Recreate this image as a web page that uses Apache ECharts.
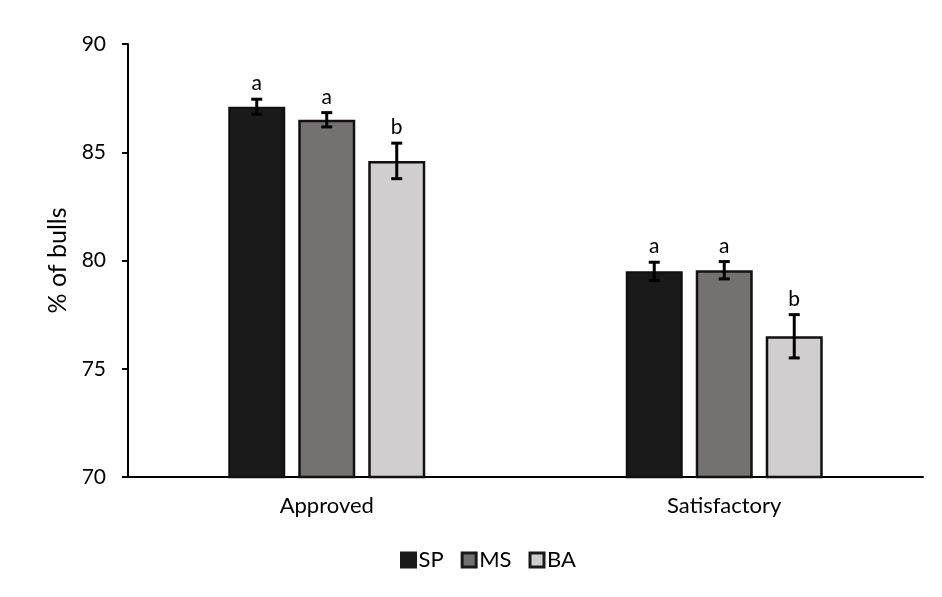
<!DOCTYPE html>
<html><head><meta charset="utf-8">
<script src="https://cdn.jsdelivr.net/npm/echarts@6/dist/echarts.min.js"></script>
<style>html,body{margin:0;padding:0;background:#fff}#c{width:942px;height:597px}</style>
</head><body><div id="c"></div>
<script>
var categories = ['Approved', 'Satisfactory'];
var seriesNames = ['SP', 'MS', 'BA'];
var spValues = [87.1, 79.5];
var msValues = [86.5, 79.55];
var baValues = [84.6, 76.5];
var spErr = [0.35, 0.42];
var msErr = [0.33, 0.4];
var baErr = [0.82, 1.0];
var spLetters = ['a', 'a'];
var msLetters = ['a', 'a'];
var baLetters = ['b', 'b'];
var yTicks = [70, 75, 80, 85, 90];

var FONT = 'Lato, "Open Sans", sans-serif';
var colors = ['#1a1a1a', '#767171', '#d0cece'];
var values = [spValues, msValues, baValues];
var errs = [spErr, msErr, baErr];
var letters = [spLetters, msLetters, baLetters];
var BAR_W = 57, GAP = 13;

var series = [];
seriesNames.forEach(function (name, i) {
  series.push({
    name: name, type: 'bar', data: values[i], barWidth: BAR_W, barGap: (GAP / BAR_W * 100) + '%',
    itemStyle: { color: colors[i], borderColor: '#111', borderWidth: 2.5 }
  });
});
seriesNames.forEach(function (name, i) {
  series.push({
    type: 'custom', name: name + '_err', silent: true, z: 10,
    data: values[i].map(function (v, k) { return [k, v, errs[i][k]]; }),
    renderItem: function (params, api) {
      var k = api.value(0), v = api.value(1), e = api.value(2);
      var groupW = 3 * BAR_W + 2 * GAP;
      var off = -groupW / 2 + BAR_W / 2 + i * (BAR_W + GAP);
      var hi = api.coord([k, v + e]), lo = api.coord([k, v - e]);
      var x = hi[0] + off;
      var cap = 5.5;
      var st = { stroke: '#000', lineWidth: 3 };
      return {
        type: 'group', children: [
          { type: 'line', shape: { x1: x, y1: hi[1], x2: x, y2: lo[1] }, style: st },
          { type: 'line', shape: { x1: x - cap, y1: hi[1], x2: x + cap, y2: hi[1] }, style: st },
          { type: 'line', shape: { x1: x - cap, y1: lo[1], x2: x + cap, y2: lo[1] }, style: st },
          { type: 'text', style: { text: letters[i][k], x: x, y: hi[1] - 5, textAlign: 'center', textVerticalAlign: 'bottom', fill: '#000', font: '21px ' + FONT } }
        ]
      };
    }
  });
});

var chart = echarts.init(document.getElementById('c'));
chart.setOption({
  animation: false,
  backgroundColor: '#fff',
  grid: { left: 128, right: 19, top: 44, bottom: 120 },
  legend: {
    data: seriesNames, top: 549, left: 400, padding: 0, icon: 'rect',
    itemWidth: 14, itemHeight: 14, itemGap: 17,
    textStyle: { fontFamily: FONT, fontSize: 22, color: '#000', padding: [0, 0, 0, -2] },
    itemStyle: { borderColor: '#1a1a1a', borderWidth: 3 }
  },
  xAxis: {
    type: 'category', data: categories,
    axisLine: { lineStyle: { color: '#000', width: 2 } },
    axisTick: { show: false },
    axisLabel: { fontFamily: FONT, fontSize: 22, color: '#000', margin: 18 }
  },
  yAxis: {
    type: 'value', min: 70, max: 90, interval: 5,
    name: '% of bulls', nameLocation: 'middle', nameGap: 56, nameRotate: 90,
    nameTextStyle: { fontFamily: FONT, fontSize: 25, color: '#000' },
    axisLine: { show: true, lineStyle: { color: '#000', width: 2 } },
    axisTick: { show: true, length: 6, lineStyle: { color: '#000', width: 2 } },
    splitLine: { show: false },
    axisLabel: { fontFamily: FONT, fontSize: 21, color: '#000', margin: 22,
      formatter: function (v) { return yTicks.indexOf(v) >= 0 ? String(v) : ''; } }
  },
  series: series
});
</script></body></html>
